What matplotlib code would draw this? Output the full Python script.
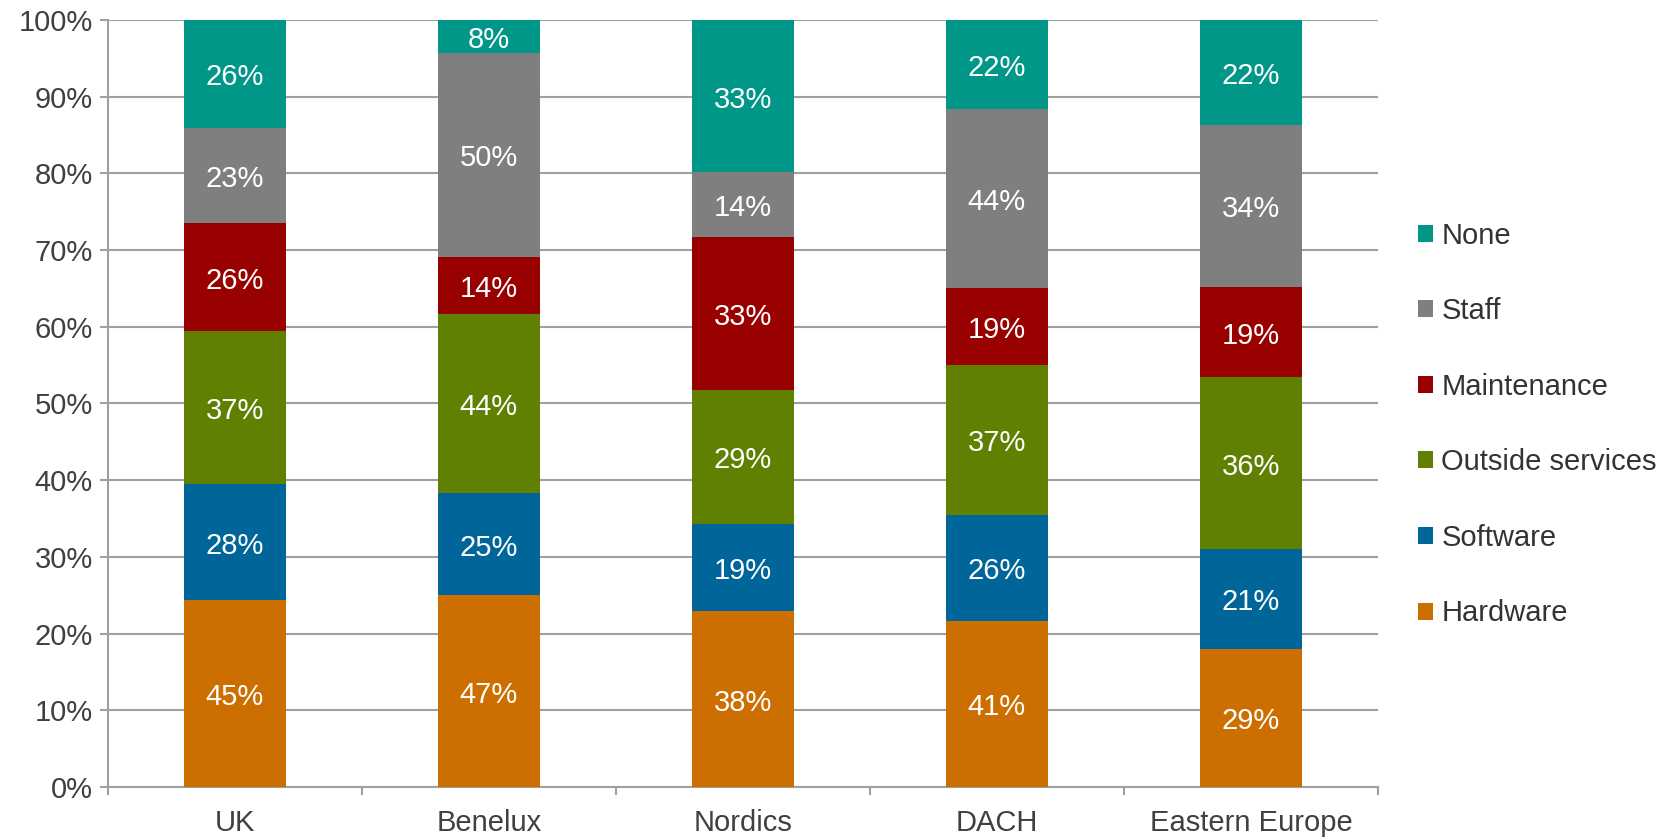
import numpy as np
import matplotlib
matplotlib.use('Agg')
from matplotlib import pyplot as plt
from matplotlib.patches import Patch

regions = ['UK', 'Benelux', 'Nordics', 'DACH', 'Eastern Europe']
series = ['Hardware', 'Software', 'Outside services', 'Maintenance', 'Staff', 'None']
hardware = [45, 47, 38, 41, 29]
software = [28, 25, 19, 26, 21]
outside_services = [37, 44, 29, 37, 36]
maintenance = [26, 14, 33, 19, 19]
staff = [23, 50, 14, 44, 34]
none = [26, 8, 33, 22, 22]
colors = ['#cc6f00', '#006699', '#5f8000', '#990000', '#7f7f7f', '#009688']

plt.rcParams['font.family'] = ['Liberation Sans', 'DejaVu Sans']

values = np.array([hardware, software, outside_services, maintenance, staff, none], dtype=float)
shares = values / values.sum(axis=0) * 100

fig = plt.figure(figsize=(16.71, 8.38), dpi=100)
ax = fig.add_axes([0.0646, 0.0609, 0.7600, 0.9152])

x = np.arange(len(regions))
bottom = np.zeros(len(regions))
for i, name in enumerate(series):
	ax.bar(x, shares[i], 0.4, bottom=bottom, color=colors[i], zorder=3)
	for j in range(len(regions)):
		ax.annotate('%d%%' % values[i][j], (x[j], bottom[j] + shares[i][j] / 2),
					xytext=(0, -2.5), textcoords='offset points',
					ha='center', va='center', color='white', fontsize=21, zorder=4)
	bottom += shares[i]

ax.set_xlim(-0.5, len(regions) - 0.5)
ax.set_ylim(0, 100)
ax.set_yticks(np.arange(0, 101, 10))
ax.set_yticklabels(['%d%%' % v for v in range(0, 101, 10)])
ax.yaxis.grid(True, color='#a0a0a0', linewidth=1.5, zorder=0)
ax.set_xticks(x)
ax.set_xticklabels(regions)
ax.set_xticks(np.arange(-0.5, len(regions), 1), minor=True)

for side in ['top', 'right']:
	ax.spines[side].set_visible(False)
for side in ['left', 'bottom']:
	ax.spines[side].set_color('#a0a0a0')
	ax.spines[side].set_linewidth(1.5)

ax.tick_params(axis='y', colors='#a0a0a0', length=6, width=1.5, labelsize=21,
			   labelcolor='#404040', pad=5)
ax.tick_params(axis='x', which='major', length=0, labelsize=21,
			   labelcolor='#404040', pad=16)
ax.tick_params(axis='x', which='minor', length=6, width=1.5, colors='#a0a0a0')

handles = [Patch(facecolor=colors[i], label=series[i]) for i in range(len(series) - 1, -1, -1)]
fig.legend(handles=handles, loc='center left', bbox_to_anchor=(0.8486, 0.4934),
		   frameon=False, fontsize=21, handlelength=0.52, handleheight=0.52,
		   handletextpad=0.28, labelspacing=1.63, borderpad=0, borderaxespad=0,
		   labelcolor='#333333')

fig.savefig('out.png', dpi=100)
